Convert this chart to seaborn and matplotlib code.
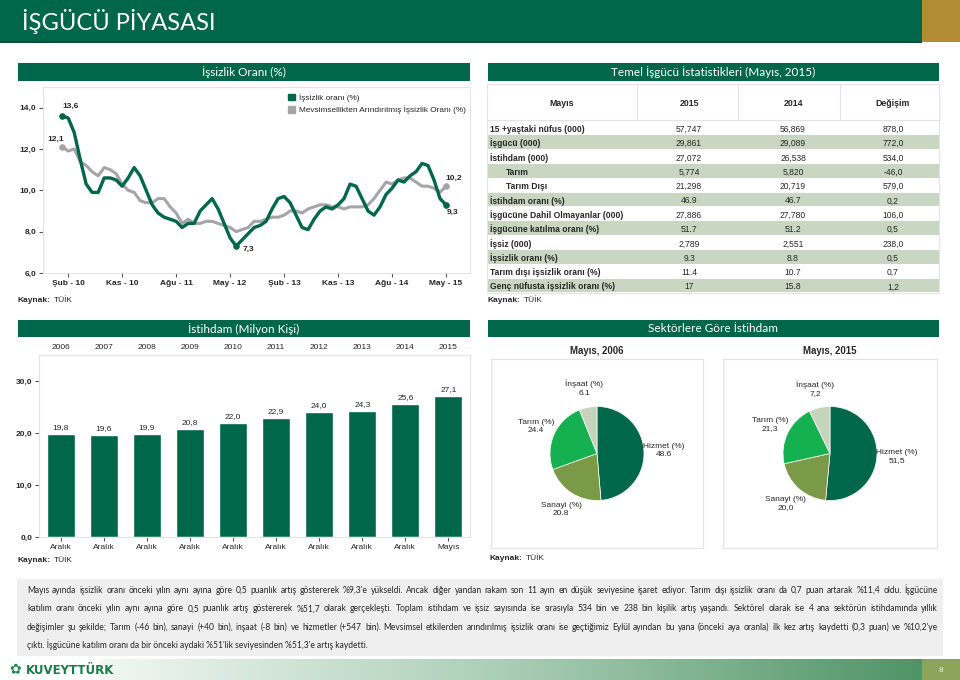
import numpy as np
import pandas as pd
import matplotlib
matplotlib.use('Agg')
import matplotlib.pyplot as plt
import matplotlib.font_manager as fm
from matplotlib.patches import Rectangle, Patch
import seaborn as sns

# ---------------- veri ----------------
ay_etiketleri = ['Şub - 10', 'Kas - 10', 'Ağu - 11', 'May - 12',
                 'Şub - 13', 'Kas - 13', 'Ağu - 14', 'May - 15']
ay_etiket_sira = [1, 10, 19, 28, 37, 46, 55, 64]   # Oca-10 = 0

issizlik = [13.6, 13.5, 12.8, 11.5, 10.3, 9.9, 9.9, 10.6, 10.6, 10.5,
            10.2, 10.6, 11.1, 10.7, 10.0, 9.3, 8.9, 8.7, 8.6, 8.5,
            8.2, 8.4, 8.4, 9.0, 9.3, 9.6, 9.1, 8.4, 7.7, 7.3,
            7.6, 7.9, 8.2, 8.3, 8.5, 9.1, 9.6, 9.7, 9.4, 8.8,
            8.2, 8.1, 8.6, 9.0, 9.2, 9.1, 9.3, 9.6, 10.3, 10.2,
            9.6, 9.0, 8.8, 9.2, 9.8, 10.1, 10.5, 10.4, 10.7, 10.9,
            11.3, 11.2, 10.5, 9.6, 9.3]
mevsimsel = [12.1, 11.9, 12.0, 11.4, 11.2, 10.9, 10.7, 11.1, 11.0, 10.8,
             10.3, 10.0, 9.9, 9.5, 9.4, 9.4, 9.6, 9.6, 9.2, 8.9,
             8.4, 8.6, 8.4, 8.4, 8.5, 8.5, 8.4, 8.3, 8.2, 8.0,
             8.1, 8.2, 8.5, 8.5, 8.6, 8.7, 8.7, 8.8, 9.0, 9.0,
             8.9, 9.1, 9.2, 9.3, 9.3, 9.2, 9.2, 9.1, 9.2, 9.2,
             9.2, 9.3, 9.6, 10.0, 10.4, 10.3, 10.5, 10.6, 10.6, 10.4,
             10.2, 10.2, 10.1, 9.9, 10.2]
seri_adlari = ['İşsizlik oranı (%)', 'Mevsimsellikten Arındırılmış İşsizlik Oranı (%)']

tablo_baslik = ['Mayıs', '2015', '2014', 'Değişim']
tablo_satir = ['15 +yaştaki nüfus (000)', 'İşgücü (000)', 'İstihdam (000)', 'Tarım',
               'Tarım Dışı', 'İstihdam oranı (%)', 'İşgücüne Dahil Olmayanlar (000)',
               'İşgücüne katılma oranı (%)', 'İşsiz (000)', 'İşsizlik oranı (%)',
               'Tarım dışı işsizlik oranı (%)', 'Genç nüfusta işsizlik oranı (%)']
tablo_2015 = ['57,747', '29,861', '27,072', '5,774', '21,298', '46.9', '27,886',
              '51.7', '2,789', '9.3', '11.4', '17']
tablo_2014 = ['56,869', '29,089', '26,538', '5,820', '20,719', '46.7', '27,780',
              '51.2', '2,551', '8.8', '10.7', '15.8']
tablo_degisim = ['878,0', '772,0', '534,0', '-46,0', '579,0', '0,2', '106,0',
                 '0,5', '238,0', '0,5', '0,7', '1,2']
girintili = ['Tarım', 'Tarım Dışı']

istihdam_yil = ['2006', '2007', '2008', '2009', '2010', '2011', '2012', '2013', '2014', '2015']
istihdam_ay = ['Aralık'] * 9 + ['Mayıs']
istihdam = [19.8, 19.6, 19.9, 20.8, 22.0, 22.9, 24.0, 24.3, 25.6, 27.1]

sektorler = ['Hizmet (%)', 'Sanayi (%)', 'Tarım (%)', 'İnşaat (%)']
sektor_2006 = [48.6, 20.8, 24.4, 6.1]
sektor_2015 = [51.5, 20.0, 21.3, 7.2]

aciklama = [
    "Mayıs ayında işsizlik oranı önceki yılın aynı ayına göre 0,5 puanlık artış göstererek %9,3'e yükseldi. Ancak diğer yandan rakam son 11 ayın en düşük seviyesine işaret ediyor. Tarım dışı işsizlik oranı da 0,7 puan artarak %11,4 oldu. İşgücüne",
    "katılım oranı önceki yılın aynı ayına göre 0,5 puanlık artış göstererek %51,7 olarak gerçekleşti. Toplam istihdam ve işsiz sayısında ise sırasıyla 534 bin ve 238 bin kişilik artış yaşandı. Sektörel olarak ise 4 ana sektörün istihdamında yıllık",
    "değişimler şu şekilde; Tarım (-46 bin), sanayi (+40 bin), inşaat (-8 bin) ve hizmetler (+547 bin). Mevsimsel etkilerden arındırılmış işsizlik oranı ise geçtiğimiz Eylül ayından bu yana (önceki aya oranla) ilk kez artış kaydetti (0,3 puan) ve %10,2'ye",
    "çıktı. İşgücüne katılım oranı da bir önceki aydaki %51'lik seviyesinden %51,3'e artış kaydetti.",
]

# ---------------- stil ----------------
YESIL = '#00674a'
GRI = '#a5a5a5'
ALTIN = '#b18c33'
ACIK = '#c8d6c2'
KOYU = '#262626'
PASTA_RENK = ['#00674a', '#7b9a48', '#15b04f', '#c6d4be']

sns.set_style('white')
mevcut = {f.name for f in fm.fontManager.ttflist}


def ilk(*adlar):
    for a in adlar:
        if a in mevcut:
            return a
    return 'DejaVu Sans'


F_BAS = ilk('Lato', 'Open Sans')
F_DAR = ilk('Liberation Sans Narrow', 'Liberation Sans')
k = 1.05 if F_DAR == 'Liberation Sans Narrow' else 0.93
plt.rcParams['font.family'] = [F_DAR, 'DejaVu Sans']

W, H = 960, 680
fig = plt.figure(figsize=(9.6, 6.8), dpi=100)
bg = fig.add_axes([0, 0, 1, 1], zorder=0)
bg.set_xlim(0, W)
bg.set_ylim(H, 0)
bg.axis('off')
renderer = fig.canvas.get_renderer()


def px_axes(x0, y0, x1, y1):
    return fig.add_axes([x0 / W, 1 - y1 / H, (x1 - x0) / W, (y1 - y0) / H], zorder=2)


def kutu(x0, y0, x1, y1, **kw):
    bg.add_patch(Rectangle((x0, y0), x1 - x0, y1 - y0, **kw))


def bolum(x0, x1, y0, y1, baslik):
    kutu(x0, y0, x1, y1, color=YESIL, lw=0)
    bg.text((x0 + x1) / 2, (y0 + y1) / 2 + 0.5, baslik, color='white', ha='center',
            va='center', fontsize=8.5, family=F_BAS)


def kaynak(x, y):
    t = bg.text(x, y, 'Kaynak:', fontsize=6.5 * k, weight='bold', color=KOYU, va='center')
    g = t.get_window_extent(renderer).width
    bg.text(x + g + 3, y, 'TÜİK', fontsize=6.5 * k, color=KOYU, va='center')


def virgul(v):
    return f'{v:.1f}'.replace('.', ',')


# ---------------- üst başlık ----------------
kutu(0, 0, 922, 42, color=YESIL, lw=0)
kutu(922, 0, 960, 42, color=ALTIN, lw=0)
kutu(0, 41, 922, 43, color='#174a34', lw=0)
bg.text(22, 21, 'İŞGÜCÜ PİYASASI', color='white', fontsize=17, family=F_BAS, va='center')

bolum(18, 470, 63, 81, 'İşsizlik Oranı (%)')
bolum(488, 939, 63, 81, 'Temel İşgücü İstatistikleri (Mayıs, 2015)')
bolum(18, 470, 320, 337, 'İstihdam (Milyon Kişi)')
bolum(488, 939, 320, 337, 'Sektörlere Göre İstihdam')

# ---------------- işsizlik çizgisi ----------------
ax1 = px_axes(43, 87, 470, 273)
ay = np.arange(len(issizlik))
sns.lineplot(x=ay, y=mevsimsel, ax=ax1, color=GRI, linewidth=2.2)
sns.lineplot(x=ay, y=issizlik, ax=ax1, color=YESIL, linewidth=2.4)
son = len(ay) - 1
dip = int(np.argmin(issizlik))
ax1.scatter([ay[0], ay[son], ay[dip]], [issizlik[0], issizlik[son], issizlik[dip]],
            s=14, color=YESIL, zorder=5)
ax1.scatter([ay[0], ay[son]], [mevsimsel[0], mevsimsel[son]], s=14, color=GRI, zorder=5)
ax1.set_xlim(-3.2, 68)
ax1.set_ylim(6, 15)
ax1.set_yticks([6, 8, 10, 12, 14])
ax1.set_yticklabels([virgul(v) for v in [6, 8, 10, 12, 14]])
ax1.set_xticks(ay_etiket_sira)
ax1.set_xticklabels(ay_etiketleri)
ax1.tick_params(axis='both', length=3, width=0.8, color='#555555', labelsize=6.5 * k,
                labelcolor=KOYU, pad=2, bottom=True, left=True)
for t in ax1.get_yticklabels() + ax1.get_xticklabels():
    t.set_fontweight('bold')
for s in ax1.spines.values():
    s.set_color('#e3e3e3')
    s.set_linewidth(0.8)
ax1.set_xlabel('')
ax1.set_ylabel('')
ann = dict(textcoords='offset pixels', fontsize=6.5 * k, weight='bold', color=KOYU)
ax1.annotate(virgul(issizlik[0]), (ay[0], issizlik[0]), xytext=(8, 10), ha='center', va='center', **ann)
ax1.annotate(virgul(mevsimsel[0]), (ay[0], mevsimsel[0]), xytext=(-6, 8), ha='center', va='center', **ann)
ax1.annotate(virgul(issizlik[dip]), (ay[dip], issizlik[dip]), xytext=(12, -3), ha='center', va='center', **ann)
ax1.annotate(virgul(issizlik[son]), (ay[son], issizlik[son]), xytext=(7, -8), ha='center', va='center', **ann)
ax1.annotate(virgul(mevsimsel[son]), (ay[son], mevsimsel[son]), xytext=(8, 8), ha='center', va='center', **ann)
ax1.legend(handles=[Patch(color=YESIL, label=seri_adlari[0]), Patch(color=GRI, label=seri_adlari[1])],
           loc='upper left', bbox_to_anchor=(0.565, 0.985), frameon=False, fontsize=6.4 * k,
           handlelength=0.9, handleheight=0.9, handletextpad=0.5, labelspacing=0.45,
           borderaxespad=0)
kaynak(18, 300)

# ---------------- tablo ----------------
t_x0, t_x1 = 487, 939
t_ust, t_bas_alt = 84, 120
satir_h = (293 - 121) / len(tablo_satir)
kolon_x = [562, 689, 793, 893]
for xs in [637, 738, 840]:
    bg.plot([xs, xs], [t_ust, t_bas_alt], color='#e3e3e3', lw=0.8)
for x, b in zip(kolon_x, tablo_baslik):
    bg.text(x, 103, b, ha='center', va='center_baseline', fontsize=6.8 * k, weight='bold', color=KOYU)
for i, ad in enumerate(tablo_satir):
    y0 = 121 + i * satir_h
    if i % 2 == 1:
        kutu(t_x0, y0, t_x1, y0 + satir_h - 0.8, color=ACIK, lw=0)
    yc = y0 + satir_h / 2
    bg.text(506 if ad in girintili else 490, yc, ad, va='center_baseline', fontsize=6.6 * k,
            weight='bold', color=KOYU)
    for x, v in zip(kolon_x[1:], [tablo_2015[i], tablo_2014[i], tablo_degisim[i]]):
        bg.text(x, yc, v, ha='center', va='center_baseline', fontsize=6.6 * k, color=KOYU)
kutu(t_x0, t_ust, t_x1, 293, fill=False, edgecolor='#e3e3e3', lw=0.8)
bg.plot([t_x0, t_x1], [t_bas_alt, t_bas_alt], color='#e3e3e3', lw=0.8)
kaynak(488, 300)

# ---------------- istihdam çubukları ----------------
ax3 = px_axes(39, 355, 470, 537)
df_bar = pd.DataFrame({'yil': istihdam_yil, 'deger': istihdam})
sns.barplot(data=df_bar, x='yil', y='deger', color=YESIL, saturation=1, width=0.65, ax=ax3)
ax3.bar_label(ax3.containers[0], labels=[virgul(v) for v in istihdam], padding=2,
              fontsize=6.5 * k, color=KOYU)
ax3.set_xlim(-0.5, len(istihdam) - 0.5)
ax3.set_ylim(0, 35)
ax3.set_yticks([0, 10, 20, 30])
ax3.set_yticklabels([virgul(v) for v in [0, 10, 20, 30]])
ax3.set_xticks(range(len(istihdam)))
ax3.set_xticklabels(istihdam_ay)
ax3.tick_params(axis='both', length=3, width=0.8, color='#555555', labelsize=6.5 * k,
                labelcolor=KOYU, pad=2, bottom=True, left=True)
for t in ax3.get_yticklabels():
    t.set_fontweight('bold')
for s in ax3.spines.values():
    s.set_color('#e3e3e3')
    s.set_linewidth(0.8)
ax3.set_xlabel('')
ax3.set_ylabel('')
ust = ax3.secondary_xaxis('top')
ust.set_xticks(range(len(istihdam)))
ust.set_xticklabels(istihdam_yil)
ust.tick_params(length=0, pad=3, labelsize=6.5 * k, labelcolor=KOYU)
ust.spines['top'].set_visible(False)
kaynak(18, 560)

# ---------------- pastalar ----------------
r_px = 47
for (x0, x1), degerler, baslik, bicim in [((491, 703), sektor_2006, 'Mayıs, 2006', '{:.1f}'),
                                          ((723, 937), sektor_2015, 'Mayıs, 2015', None)]:
    y0, y1 = 359, 548
    ax = px_axes(x0, y0, x1, y1)
    etiket = [f'{s}\n' + (bicim.format(v) if bicim else virgul(v)) for s, v in zip(sektorler, degerler)]
    kamalar, yazilar = ax.pie(degerler, colors=PASTA_RENK, startangle=90, counterclock=False,
                              labels=etiket, labeldistance=1.42,
                              wedgeprops=dict(edgecolor='white', linewidth=0.5),
                              textprops=dict(fontsize=6.5 * k, color=KOYU, linespacing=1.25))
    for t in yazilar:
        t.set_ha('center')
        t.set_va('center')
    hx = (x1 - x0) / 2 / r_px
    hy = (y1 - y0) / 2 / r_px
    ax.set_aspect('auto')
    ax.set_xlim(-hx, hx)
    ax.set_ylim(-hy, hy)
    ax.set_frame_on(True)
    for s in ax.spines.values():
        s.set_color('#e3e3e3')
        s.set_linewidth(0.8)
    ax.set_xticks([])
    ax.set_yticks([])
    bg.text((x0 + x1) / 2, 351, baslik, ha='center', va='center', fontsize=7.5 * k,
            weight='bold', color=KOYU)
kaynak(490, 558)

# ---------------- açıklama metni ----------------
kutu(17, 579, 943, 656, color='#efefef', lw=0)
m_x0, m_x1 = 27, 938
F_MET = F_BAS
taban = 6.0
olcum = []
for satir in aciklama:
    t = bg.text(0, 0, satir, fontsize=taban, family=F_MET)
    olcum.append(t.get_window_extent(renderer).width)
    t.remove()
boy = taban * 0.98 * (m_x1 - m_x0) / max(olcum[:3])
for i, satir in enumerate(aciklama):
    yb = 593 + i * 18.3   # taban çizgisi
    if i == len(aciklama) - 1:
        bg.text(m_x0, yb, satir, fontsize=boy, va='baseline', color=KOYU, family=F_MET)
        continue
    kelimeler = satir.split()
    yazi = [bg.text(0, yb, kl, fontsize=boy, va='baseline', color=KOYU, family=F_MET) for kl in kelimeler]
    gen = [t.get_window_extent(renderer).width for t in yazi]
    bosluk = (m_x1 - m_x0 - sum(gen)) / (len(kelimeler) - 1)
    x = m_x0
    for t, g in zip(yazi, gen):
        t.set_x(x)
        x += g + bosluk

# ---------------- alt bant ----------------
gradyan = np.linspace(0, 1, 256)[None, :]
bg.imshow(gradyan, extent=(100, 922, 680, 659), aspect='auto',
          cmap=matplotlib.colors.LinearSegmentedColormap.from_list('g', ['#f1f7f3', '#a9cdb4', '#4f9467']),
          zorder=1)
kutu(922, 659, 960, 680, color='#8ba65a', lw=0)
bg.text(941, 670, '8', color='#eef3e0', fontsize=6, ha='center', va='center')
bg.text(9, 669, '✿', color='#1b8a4c', fontsize=10, va='center', family='DejaVu Sans')
bg.text(26, 670, 'KUVEYTTÜRK', color='#1b7a47', fontsize=8.5, weight='bold', va='center',
        family='DejaVu Sans')
bg.set_xlim(0, W)
bg.set_ylim(H, 0)

fig.savefig('out.png', dpi=100)
